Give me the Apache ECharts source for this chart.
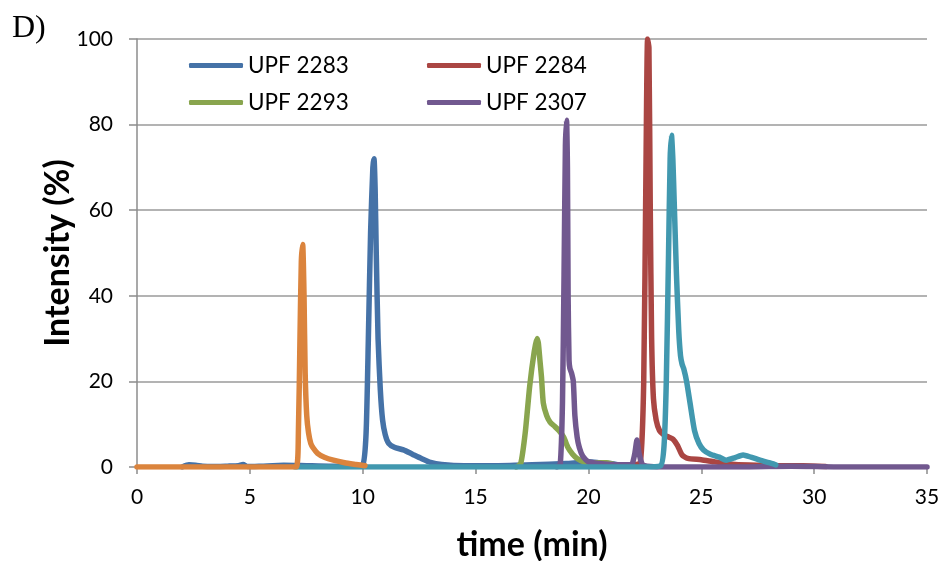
<!DOCTYPE html>
<html>
<head>
<meta charset="utf-8">
<script src="https://cdn.jsdelivr.net/npm/echarts@6/dist/echarts.min.js"></script>
<style>
html,body{margin:0;padding:0;background:#fff;}
#c{width:943px;height:561px;}
</style>
</head>
<body>
<div id="c"></div>
<script>
// time (min) and intensity (%) per series
var t2283 = [2.0, 2.3, 2.6, 2.9, 3.3, 4.0, 4.5, 4.7, 4.9, 5.5, 6.5, 7.5, 8.5, 9.5, 10.0, 10.15, 10.25, 10.35, 10.45, 10.5, 10.55, 10.6, 10.68, 10.78, 10.88, 11.0, 11.15, 11.4, 11.8, 12.2, 12.6, 13.0, 13.5, 14.5, 16, 17.5, 19, 20, 20.5, 21, 21.5];
var i2283 = [0, 0.5, 0.4, 0.2, 0.1, 0.2, 0.3, 0.6, 0.1, 0.2, 0.4, 0.3, 0.2, 0.2, 0.5, 8, 30, 55, 70, 72, 65, 50, 30, 18, 11, 7.5, 5.5, 4.6, 4, 3, 2, 1.1, 0.6, 0.3, 0.3, 0.5, 0.8, 1.2, 1.0, 0.8, 0.3];

var t2284 = [20.5, 21.5, 22.0, 22.3, 22.45, 22.55, 22.62, 22.68, 22.74, 22.8, 22.88, 23.0, 23.15, 23.35, 23.55, 23.75, 23.95, 24.15, 24.4, 25.0, 25.6, 26.5, 27.5, 28.5, 29.5, 30.5];
var i2284 = [0.2, 0.3, 0.5, 1, 20, 70, 100, 98, 60, 30, 16, 11, 8.5, 7.5, 7, 6.5, 5, 2.8, 2, 1.7, 1.2, 0.6, 0.4, 0.3, 0.3, 0.1];

var t2293 = [16.8, 17.0, 17.2, 17.4, 17.6, 17.72, 17.78, 17.85, 17.92, 18.0, 18.15, 18.3, 18.5, 18.7, 18.9, 19.1, 19.3, 19.5, 19.8, 20.3, 20.8, 21.1, 21.4];
var i2293 = [0, 0.8, 8, 19, 27, 30, 29, 25, 21, 15, 12, 10.5, 9.5, 8.5, 7, 4.5, 3, 2, 1.2, 1.0, 1.0, 0.6, 0.2];

var t2307 = [18.6, 18.75, 18.85, 18.92, 18.98, 19.03, 19.07, 19.1, 19.14, 19.18, 19.25, 19.33, 19.4, 19.5, 19.6, 19.75, 20.0, 20.5, 21.0, 21.5, 21.9, 22.05, 22.15, 22.25, 22.4, 22.6, 23.5, 25, 27, 29, 31, 33, 35];
var i2307 = [0, 0.5, 15, 45, 75, 81, 70, 40, 25, 23, 22, 20, 12, 7, 4.5, 2.5, 1.2, 0.8, 0.6, 0.5, 0.5, 3, 6.3, 3, 0.5, 0.2, 0, 0, 0, 0.2, 0, 0, 0];

var tTeal = [7.0, 10, 13, 16, 19, 21, 22.5, 23.2, 23.35, 23.45, 23.55, 23.62, 23.68, 23.74, 23.8, 23.9, 24.0, 24.08, 24.15, 24.22, 24.35, 24.5, 24.7, 24.9, 25.1, 25.4, 25.8, 26.1, 26.5, 26.85, 27.2, 27.6, 28.0, 28.3];
var iTeal = [0, 0, 0, 0, 0, 0, 0, 0.3, 5, 20, 50, 72, 77.5, 72, 62, 45, 32, 26, 24, 23, 20, 15, 8.5, 5.5, 4, 3, 2.3, 1.6, 2.2, 2.8, 2.3, 1.6, 1.0, 0.5];

var tOrange = [0, 3, 6, 7.05, 7.15, 7.22, 7.28, 7.34, 7.4, 7.45, 7.52, 7.6, 7.7, 7.8, 8.0, 8.3, 8.7, 9.2, 9.7, 10.1];
var iOrange = [0, 0, 0, 0, 8, 30, 48, 52, 40, 22, 12, 8, 5.5, 4.5, 3.2, 2.3, 1.6, 1.0, 0.6, 0.3];

var xTicks = [0, 5, 10, 15, 20, 25, 30, 35];
var yTicks = [0, 20, 40, 60, 80, 100];

function zip(t, v){ return t.map(function(x, k){ return [x, v[k]]; }); }

var FONT = 'Lato';
function mk(name, t, v, color){
  return {
    name: name, type: 'line', data: zip(t, v), color: color,
    showSymbol: false, symbol: 'none', smooth: 0.2,
    lineStyle: {width: 5.5, color: color, cap: 'round', join: 'round'},
    emphasis: {disabled: true}, animation: false
  };
}
function leg(name, left, top){
  return {
    data: [name], left: left, top: top, padding: 0,
    icon: 'roundRect', itemWidth: 54, itemHeight: 5, itemGap: 0,
    textStyle: {fontFamily: FONT, fontSize: 22.5, color: '#000', lineHeight: 22},
    selectedMode: false
  };
}

var chart = echarts.init(document.getElementById('c'), null, {renderer: 'canvas'});
chart.setOption({
  backgroundColor: '#fff',
  animation: false,
  grid: {left: 137, right: 16, top: 39, bottom: 94, containLabel: false, outerBoundsMode: 'none'},
  legend: [
    leg('UPF 2283', 189, 54),
    leg('UPF 2284', 427, 54),
    leg('UPF 2293', 189, 91),
    leg('UPF 2307', 427, 91)
  ],
  graphic: [{
    type: 'text', left: 12, top: 13,
    style: {text: 'D)', font: '32px "Liberation Serif"', fill: '#000'}
  }],
  xAxis: {
    type: 'value', min: 0, max: 35, interval: 5,
    name: 'time (min)', nameLocation: 'middle', nameGap: 61, nameMoveOverlap: false,
    nameTextStyle: {fontFamily: FONT, fontWeight: 'bold', fontSize: 34, color: '#000'},
    axisLine: {onZero: false, lineStyle: {color: '#8c8c8c', width: 1.5}},
    axisTick: {show: true, length: 7, inside: false, lineStyle: {color: '#8c8c8c', width: 1.5}},
    axisLabel: {fontFamily: FONT, fontSize: 21, color: '#000', margin: 20,
      formatter: function(v){ return xTicks.indexOf(v) >= 0 ? String(v) : ''; }},
    splitLine: {show: false}
  },
  yAxis: {
    type: 'value', min: 0, max: 100, interval: 20,
    name: 'Intensity (%)', nameLocation: 'middle', nameGap: 62, nameRotate: 90, nameMoveOverlap: false,
    nameTextStyle: {fontFamily: FONT, fontWeight: 'bold', fontSize: 34, color: '#000'},
    axisLine: {show: true, lineStyle: {color: '#8c8c8c', width: 1.5}},
    axisTick: {show: true, length: 8, inside: false, lineStyle: {color: '#8c8c8c', width: 1.5}},
    axisLabel: {fontFamily: FONT, fontSize: 21, color: '#000', margin: 24,
      formatter: function(v){ return yTicks.indexOf(v) >= 0 ? String(v) : ''; }},
    splitLine: {show: true, lineStyle: {color: '#9a9a9a', width: 1.5}}
  },
  series: [
    mk('UPF 2283', t2283, i2283, '#4572A7'),
    mk('UPF 2284', t2284, i2284, '#AA4643'),
    mk('UPF 2293', t2293, i2293, '#89A54E'),
    mk('UPF 2307', t2307, i2307, '#71588F'),
    mk('Peak E', tTeal, iTeal, '#4198AF'),
    mk('Peak F', tOrange, iOrange, '#DB843D')
  ]
});
</script>
</body>
</html>
